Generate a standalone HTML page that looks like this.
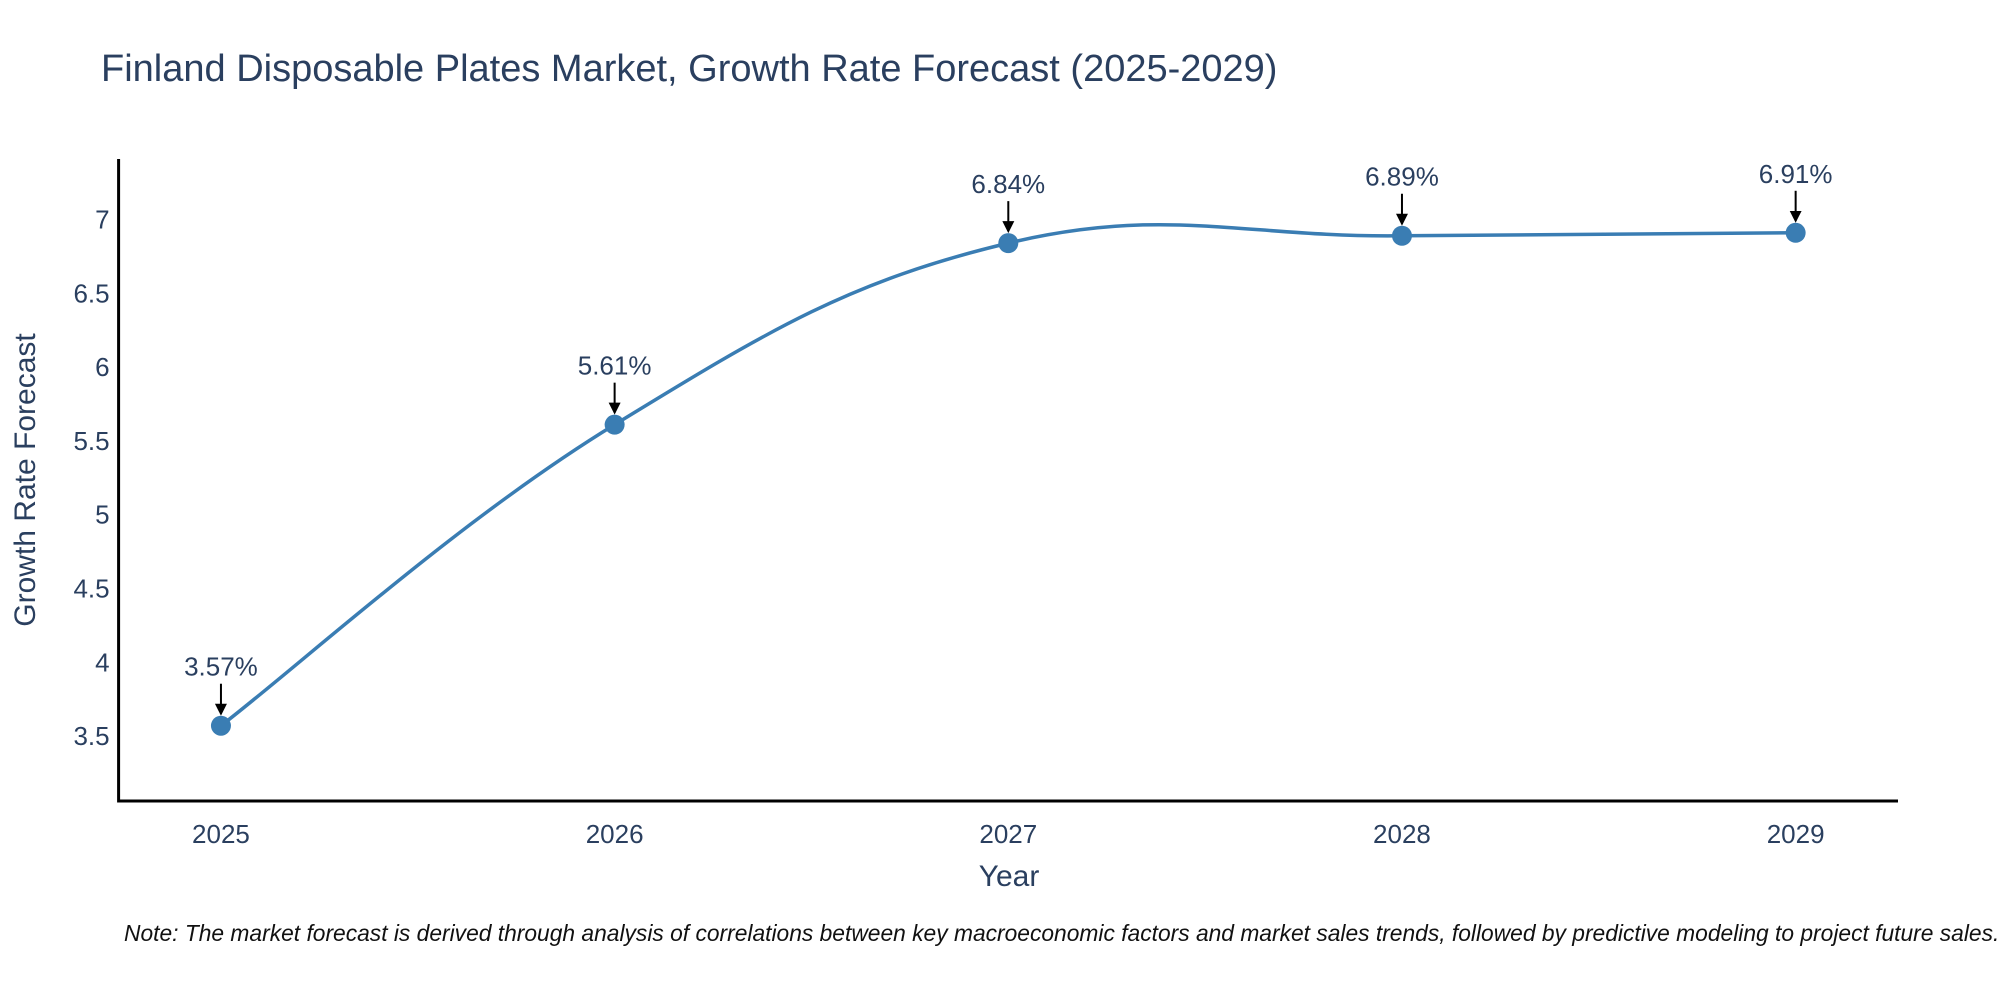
<!DOCTYPE html>
<html><head><meta charset="utf-8">
<style>
html,body{margin:0;padding:0;background:#fff;}
svg{display:block;font-family:"Liberation Sans","DejaVu Sans",sans-serif;}
</style></head>
<body>
<svg id="chart" width="2000" height="1000" viewBox="0 0 2000 1000" xmlns="http://www.w3.org/2000/svg">
<rect width="2000" height="1000" fill="#fff"/>
<text x="101" y="81" font-size="38" fill="#2a3f5f">Finland Disposable Plates Market, Growth Rate Forecast (2025-2029)</text>
<g id="plot"></g>
<text x="1009" y="886" font-size="30" fill="#2a3f5f" text-anchor="middle">Year</text>
<text transform="translate(35,480) rotate(-90)" font-size="30" fill="#2a3f5f" text-anchor="middle">Growth Rate Forecast</text>
<text x="124" y="941" font-size="22.8" font-style="italic" fill="#111">Note: The market forecast is derived through analysis of correlations between key macroeconomic factors and market sales trends, followed by predictive modeling to project future sales.</text>
</svg>
<script>
const years = [2025, 2026, 2027, 2028, 2029];
const growth = [3.57, 5.61, 6.84, 6.89, 6.91];
const labels = ["3.57%", "5.61%", "6.84%", "6.89%", "6.91%"];
const yTicks = [3.5, 4, 4.5, 5, 5.5, 6, 6.5, 7];
const yTickLabels = ["3.5", "4", "4.5", "5", "5.5", "6", "6.5", "7"];

const L = 118.6, R = 1898, T = 159, B = 801;
const xMin = 2024.74, xMax = 2029.26, yMin = 3.06, yMax = 7.41;
const xs = v => L + (v - xMin) / (xMax - xMin) * (R - L);
const ys = v => B - (v - yMin) / (yMax - yMin) * (B - T);
const NS = "http://www.w3.org/2000/svg";
const g = document.getElementById('plot');
function mk(tag, attrs, parent) {
  const e = document.createElementNS(NS, tag);
  for (const k in attrs) e.setAttribute(k, attrs[k]);
  (parent || g).appendChild(e);
  return e;
}
const defs = mk('defs', {});
const marker = mk('marker', {id: 'ah', markerWidth: 6, markerHeight: 6, refX: 5, refY: 3, orient: 'auto', markerUnits: 'strokeWidth'}, defs);
mk('path', {d: 'M0,0 L6,3 L0,6 Z', fill: '#000'}, marker);

yTicks.forEach((t, i) => {
  const tx = mk('text', {x: L - 9, y: ys(t) + 9, 'font-size': 26, fill: '#2a3f5f', 'text-anchor': 'end'});
  
  
  tx.textContent = yTickLabels[i];
});
years.forEach(y => {
  const tx = mk('text', {x: xs(y), y: B + 42, 'font-size': 26, fill: '#2a3f5f', 'text-anchor': 'middle'});
  
  
  tx.textContent = String(y);
});

const ax = mk('path', {d: `M${L},${T} L${L},${B} L${R},${B}`, fill: 'none', stroke: '#000', 'stroke-width': 3});



const pts = years.map((y, i) => [xs(y), ys(growth[i])]);
let d = `M${pts[0][0]},${pts[0][1]}`;
const s = 0.2;
for (let i = 0; i < pts.length - 1; i++) {
  const p0 = pts[Math.max(0, i - 1)], p1 = pts[i], p2 = pts[i + 1], p3 = pts[Math.min(pts.length - 1, i + 2)];
  const c1 = [p1[0] + (p2[0] - p0[0]) * s, p1[1] + (p2[1] - p0[1]) * s];
  const c2 = [p2[0] - (p3[0] - p1[0]) * s, p2[1] - (p3[1] - p1[1]) * s];
  d += ` C${c1[0]},${c1[1]} ${c2[0]},${c2[1]} ${p2[0]},${p2[1]}`;
}
const line = mk('path', {d: d, fill: 'none', stroke: '#3a7db3', 'stroke-width': 3.5});



pts.forEach((p, i) => {
  const c = mk('circle', {cx: p[0], cy: p[1], r: 10, fill: '#3a7db3'});
  
  
  const a = mk('line', {x1: p[0], y1: p[1] - 42, x2: p[0], y2: p[1] - 12, stroke: '#000', 'stroke-width': 2, 'marker-end': 'url(#ah)'});
  
  
  const t = mk('text', {x: p[0], y: p[1] - 50, 'font-size': 26, fill: '#2a3f5f', 'text-anchor': 'middle'});
  
  
  t.textContent = labels[i];
});
</script>
</body></html>
